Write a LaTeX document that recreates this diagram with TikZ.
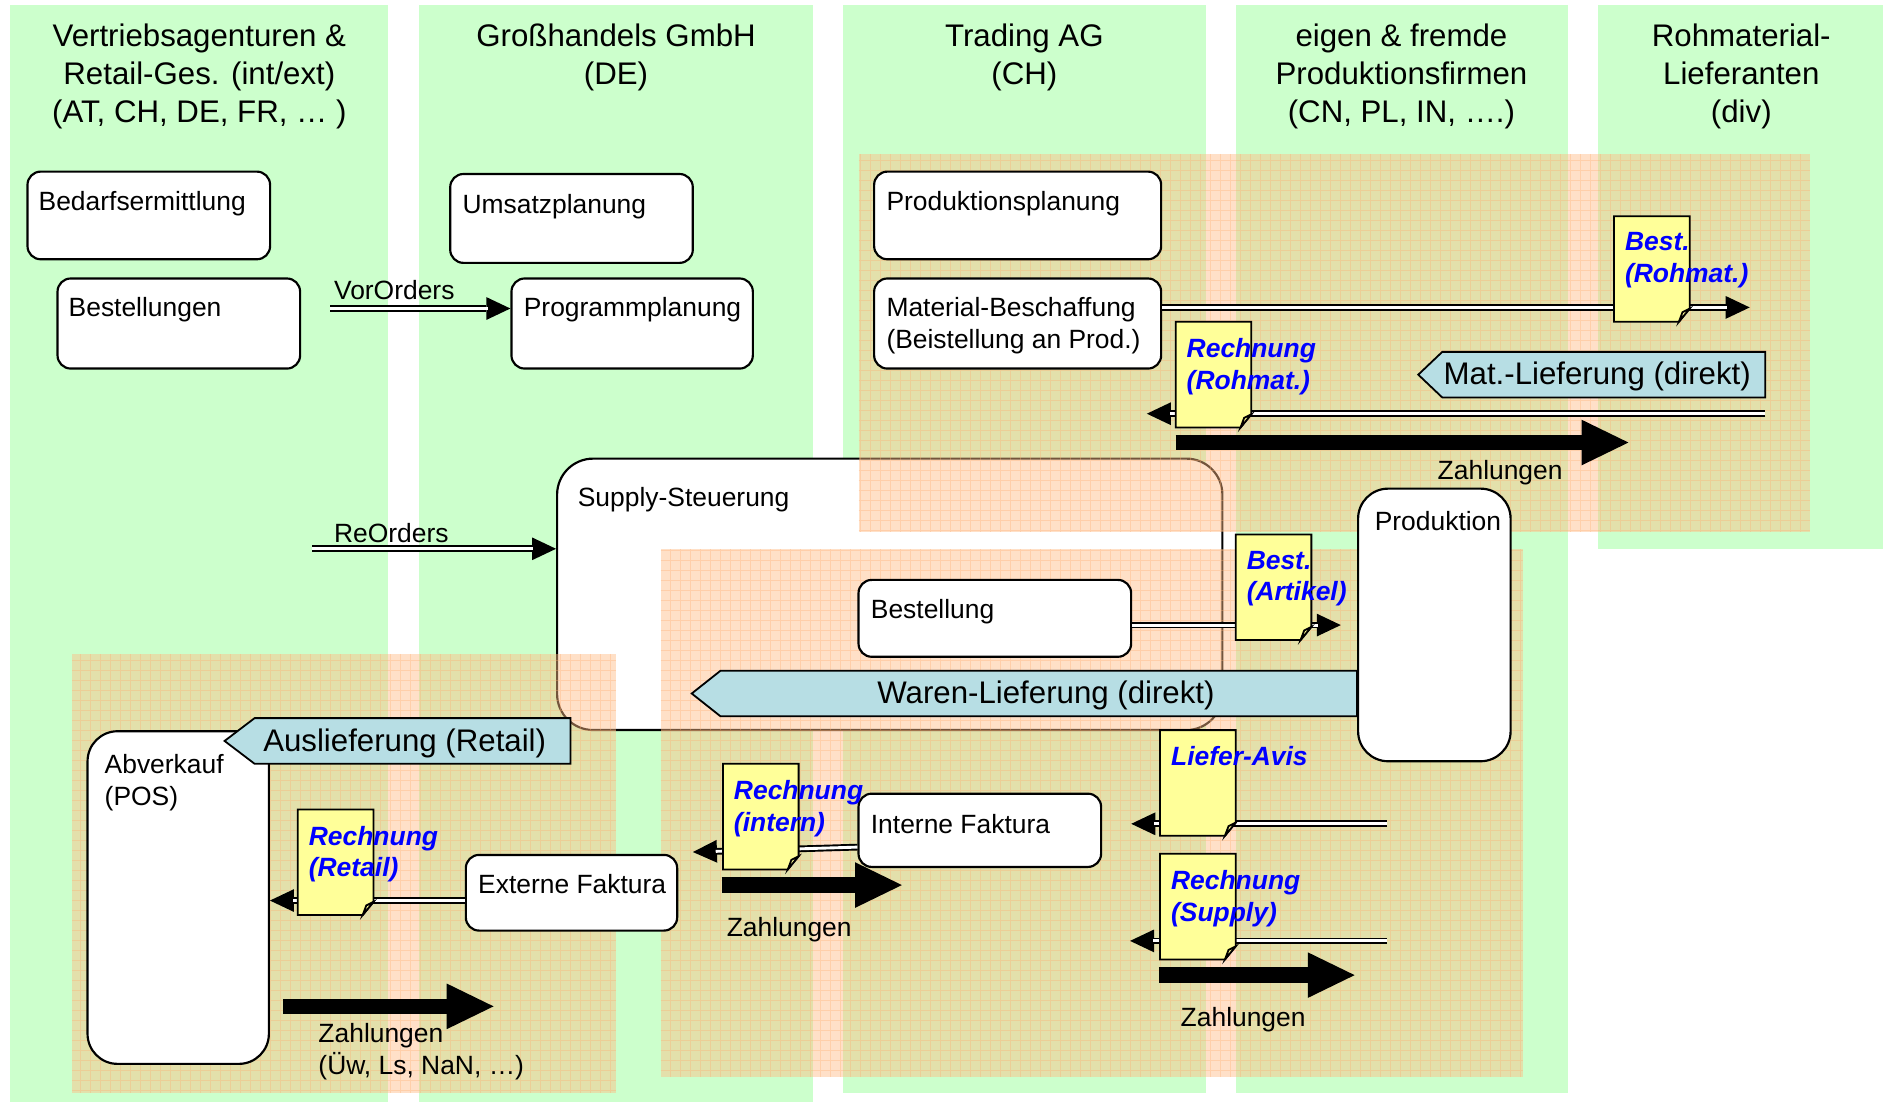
\documentclass[tikz,border=0pt]{standalone}
\usepackage{fontspec}
\setmainfont{Liberation Sans}
\usetikzlibrary{arrows.meta}
\definecolor{lanegreen}{RGB}{204,255,204}
\definecolor{zoneorange}{RGB}{255,187,133}
\definecolor{gridorange}{RGB}{255,175,115}
\definecolor{docyellow}{RGB}{255,255,153}
\definecolor{flowblue}{RGB}{183,222,228}
\definecolor{noteblue}{RGB}{0,0,255}

\begin{document}
\begin{tikzpicture}[x=1pt,y=-1pt,
        lane/.style={fill=lanegreen},
        zone/.style={fill=zoneorange,fill opacity=0.45},
        zonegrid/.style={draw=gridorange,draw opacity=0.35,line width=0.8pt,step=8.33pt},
        box/.style={draw,fill=white,line width=1.8pt,rounded corners=11pt,anchor=north west,inner sep=0pt},
        boxtxt/.style={anchor=north west,inner sep=0pt,align=left,font=\fontsize{22}{26.5}\selectfont},
        head/.style={anchor=north,inner sep=0pt,align=center,font=\fontsize{26}{31.5}\selectfont},
        lbl/.style={anchor=north west,inner sep=0pt,align=left,font=\fontsize{22}{27}\selectfont},
        dbl/.style={line width=5.6pt,-{Triangle[length=20pt,width=19pt,line width=0pt]},
            postaction={draw=white,line width=2.4pt,-,shorten >=19pt}},
        zahl/.style={line width=13pt,-{Triangle[length=39pt,width=38pt,line width=0pt]}},
        beleg/.style={draw,fill=docyellow,line width=1.5pt},
        belegtxt/.style={anchor=north west,inner sep=0pt,align=left,text=noteblue,
            font=\fontsize{22}{26.5}\selectfont\bfseries\itshape},
        liefer/.style={draw,fill=flowblue,line width=1.5pt},
        liefertxt/.style={inner sep=0pt,font=\fontsize{26}{31.5}\selectfont}]
    \useasboundingbox (0,0) rectangle (1568,920);

    \foreach \xa/\xb/\yb in {8/323/918,349/677/918,702/1004/910,1029/1306/910,1331/1568/457}
        \fill[lane] (\xa,4) rectangle (\xb,\yb);

    \node[box,rounded corners=30pt,minimum width=554pt,minimum height=226pt] (supply) at (463,381) {};

    \foreach \xa/\ya/\xb/\yb in {715/128/1507/443,550/457/1268/897,60/545/513/910}{
        \fill[zone] (\xa,\ya) rectangle (\xb,\yb);
        \draw[zonegrid] (\xa,\yb) grid (\xb,\ya);
    }

    \node[head] (hvertrieb) at (166,20) {Vertriebsagenturen \&\\Retail-Ges. (int/ext)\\(AT, CH, DE, FR, … )};
    \node[head] (hgross) at (513,20) {Großhandels GmbH\\(DE)};
    \node[head] (htrading) at (853,20) {Trading AG\\(CH)};
    \node[head] (hprodfirm) at (1167,20) {eigen \& fremde\\Produktionsfirmen\\(CN, PL, IN, ….)};
    \node[head] (hrohmat) at (1450,20) {Rohmaterial-\\Lieferanten\\(div)};

    \node[box,minimum width=202pt,minimum height=73pt] (bedarf) at (22,142) {};
    \node[box,minimum width=202pt,minimum height=75pt] (bestellungen) at (47,231) {};
    \node[box,minimum width=202pt,minimum height=74pt] (umsatz) at (374,144) {};
    \node[box,minimum width=201pt,minimum height=75pt] (programm) at (425,231) {};
    \node[box,minimum width=239pt,minimum height=73pt] (prodplan) at (727,142) {};
    \node[box,minimum width=239pt,minimum height=75pt] (matbesch) at (727,231) {};
    \node[box,minimum width=227pt,minimum height=64pt] (bestellung) at (714,482) {};
    \node[box,rounded corners=25pt,minimum width=127pt,minimum height=227pt] (produktion) at (1130,406) {};
    \node[box,rounded corners=25pt,minimum width=151pt,minimum height=277pt] (abverkauf) at (72,608) {};
    \node[box,minimum width=176pt,minimum height=63pt] (extfak) at (387,711) {};
    \node[box,minimum width=202pt,minimum height=61pt] (intfak) at (714,660) {};

    \node[boxtxt] (tbedarf) at ([shift={(10,17)}]bedarf.north west) {Bedarfsermittlung};
    \node[boxtxt] (tbestellungen) at ([shift={(10,16)}]bestellungen.north west) {Bestellungen};
    \node[boxtxt] (tumsatz) at ([shift={(11,18)}]umsatz.north west) {Umsatzplanung};
    \node[boxtxt] (tprogramm) at ([shift={(11,16)}]programm.north west) {Programmplanung};
    \node[boxtxt] (tprodplan) at ([shift={(11,17)}]prodplan.north west) {Produktionsplanung};
    \node[boxtxt] (tmatbesch) at ([shift={(11,16.5)}]matbesch.north west) {Material-Beschaffung\\(Beistellung an Prod.)};
    \node[boxtxt] (tsupply) at ([shift={(18,25)}]supply.north west) {Supply-Steuerung};
    \node[boxtxt] (tbestellung) at ([shift={(11,17)}]bestellung.north west) {Bestellung};
    \node[boxtxt,anchor=north] (tproduktion) at ([shift={(3,20)}]produktion.north) {Produktion};
    \node[boxtxt] (tabverkauf) at ([shift={(15,20)}]abverkauf.north west) {Abverkauf\\(POS)};
    \node[boxtxt] (textfak) at ([shift={(11,17)}]extfak.north west) {Externe Faktura};
    \node[boxtxt] (tintfak) at ([shift={(11,18)}]intfak.north west) {Interne Faktura};

    \coordinate (reostart) at (260,457);
    \coordinate (rohend) at (1457,256);
    \coordinate (matstart) at (1470,344.5);
    \coordinate (matend) at (955,344.5);
    \coordinate (artend) at (1116.5,520.5);
    \coordinate (avisstart) at (1155,686);
    \coordinate (avisend) at (942,686);
    \coordinate (supstart) at (1155,783.5);
    \coordinate (supend) at (941,783.5);
    \coordinate (intend) at (577,709.5);
    \draw[dbl] ([xshift=24pt,yshift=12.5pt]bestellungen.east) -- ([yshift=12.5pt]programm.west);
    \draw[dbl] (reostart) -- (reostart -| supply.west);
    \draw[dbl] (rohend -| matbesch.east) -- (rohend);
    \draw[dbl] (matstart) -- (matend);
    \draw[dbl] (artend -| bestellung.east) -- (artend);
    \draw[dbl] (avisstart) -- (avisend);
    \draw[dbl] (supstart) -- (supend);
    \draw[dbl] ([yshift=-14pt]intfak.west) -- (intend);
    \draw[dbl] ([yshift=-6.5pt]extfak.west) -- ([yshift=-6.5pt]extfak.west -| abverkauf.east);

    \coordinate (zroha) at (979,368.5);
    \coordinate (zrohb) at (1356,368.5);
    \coordinate (zsupa) at (965,812);
    \coordinate (zsupb) at (1128,812);
    \coordinate (zinta) at (601,737);
    \coordinate (zintb) at (751,737);
    \coordinate (zreta) at (236,838);
    \coordinate (zretb) at (411,838);
    \draw[zahl] (zroha) -- (zrohb);
    \draw[zahl] (zsupa) -- (zsupb);
    \draw[zahl] (zinta) -- (zintb);
    \draw[zahl] (zreta) -- (zretb);

    \draw[liefer] (1470,293) -- (1201,293) -- (1181,312) -- (1201,331) -- (1470,331) -- cycle;
    \draw[liefer] (1130,558.5) -- (600,558.5) -- (576,577.5) -- (600,596.5) -- (1130,596.5) -- cycle;
    \draw[liefer] (475,598) -- (212,598) -- (187,617) -- (212,636) -- (475,636) -- cycle;
    \node[liefertxt] (matlief) at (1330,313.5) {Mat.-Lieferung (direkt)};
    \node[liefertxt] (warenlief) at (871,579) {Waren-Lieferung (direkt)};
    \node[liefertxt] (auslief) at (337,619) {Auslieferung (Retail)};

    \foreach \bx/\by/\bid/\btext in {1344/180/bestroh/{Best.\\(Rohmat.)},979/268/rechroh/{Rechnung\\(Rohmat.)},
            1029/445/bestart/{Best.\\(Artikel)},966/608/avis/{Liefer-Avis},966/711/rechsup/{Rechnung\\(Supply)},
            602/636/rechint/{Rechnung\\(intern)},248/674/rechret/{Rechnung\\(Retail)}}{
        \draw[beleg] (\bx,\by) -- ++(63,0) -- ++(0,77) -- ++(-9,11) -- ++(-54,0) -- cycle;
        \draw[beleg] (\bx+63,\by+77) -- (\bx+57,\by+80) -- (\bx+54,\by+88) -- cycle;
        \node[belegtxt] (\bid) at (\bx+9,\by+13.5) {\btext};
    }

    \node[lbl] (tvororders) at (278,233) {VorOrders};
    \node[lbl] (treorders) at (278,435.5) {ReOrders};
    \node[lbl] (tzahlroh) at (1197,383) {Zahlungen};
    \node[lbl] (tzahlsup) at (983,839) {Zahlungen};
    \node[lbl] (tzahlint) at (605,764) {Zahlungen};
    \node[lbl] (tzahlret) at (265,852) {Zahlungen\\(Üw, Ls, NaN, …)};
\end{tikzpicture}
\end{document}
